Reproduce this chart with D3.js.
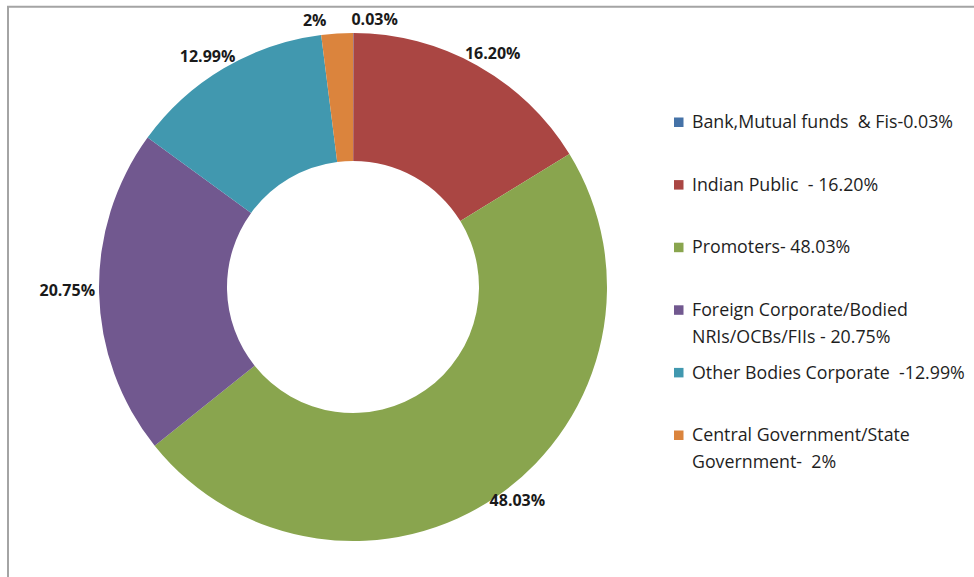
<!DOCTYPE html>
<html>
<head>
<meta charset="utf-8">
<script src="https://cdn.jsdelivr.net/npm/d3@7"></script>
<style>
  html, body { margin: 0; padding: 0; background: #fff; }
  svg { display: block; }
</style>
</head>
<body>
<div id="chart"></div>
<script>
// shareholding pattern (%)
const categories = ['Bank,Mutual funds & Fis', 'Indian Public', 'Promoters', 'Foreign Corporate/Bodied NRIs/OCBs/FIIs', 'Other Bodies Corporate', 'Central Government/State Government'];
const values = [0.03, 16.20, 48.03, 20.75, 12.99, 2];
const dataLabels = ['0.03%', '16.20%', '48.03%', '20.75%', '12.99%', '2%'];
const legendLines = [
  ['Bank,Mutual funds \u00a0& Fis-0.03%'],
  ['Indian Public \u00a0- 16.20%'],
  ['Promoters- 48.03%'],
  ['Foreign Corporate/Bodied', 'NRIs/OCBs/FIIs - 20.75%'],
  ['Other Bodies Corporate \u00a0-12.99%'],
  ['Central Government/State', 'Government- \u00a02%']
];
const colors = ['#4572A7', '#AA4643', '#89A54E', '#71588F', '#4198AF', '#DB843D'];

const W = 974, H = 577, cx = 353, cy = 287, R = 254, r0 = 126;
const svg = d3.select('#chart').append('svg').attr('width', W).attr('height', H);

// chart area frame (top and left edges visible)
svg.append('path').attr('d', `M8,${H} V6.8 H${W}`).attr('fill', 'none')
  .attr('stroke', '#a4a4a4').attr('stroke-width', 2);

const pie = d3.pie().sort(null).value(d => d)(values);
const arc = d3.arc().innerRadius(r0).outerRadius(R);
const g = svg.append('g').attr('transform', `translate(${cx},${cy})`);
g.selectAll('path.slice').data(pie).join('path').attr('class', 'slice')
  .attr('d', arc).attr('fill', (d, i) => colors[i]);

// data labels: box touching the outer edge at the slice mid-angle
const LFONT = 'Open Sans, Lato, sans-serif';
const measure = svg.append('text').attr('font-family', LFONT).attr('font-size', 16).attr('font-weight', 700);
const labels = pie.map((d, i) => {
  const a = (d.startAngle + d.endAngle) / 2;
  measure.text(dataLabels[i]);
  const w = measure.node().getComputedTextLength(), h = 13;
  const px = Math.sin(a) * (R + 4), py = -Math.cos(a) * (R + 4);
  return { i, text: dataLabels[i], w, x: px + Math.sin(a) * w / 2, y: py - Math.cos(a) * h / 2 - 3 };
});
measure.remove();
// push overlapping labels apart
for (let i = 0; i < labels.length; i++) {
  for (let j = i + 1; j < labels.length; j++) {
    const A = labels[i], B = labels[j];
    if (Math.abs(A.y - B.y) < 14 && Math.abs(A.x - B.x) < (A.w + B.w) / 2 + 4) {
      const [L, Rt] = A.x < B.x ? [A, B] : [B, A];
      const mid = (L.x + L.w / 2 + Rt.x - Rt.w / 2) / 2, gap = 12.5;
      L.x = mid - gap - L.w / 2;
      Rt.x = mid + gap + Rt.w / 2;
    }
  }
}
g.selectAll('text.dl').data(labels).join('text').attr('class', 'dl')
  .attr('x', d => d.x).attr('y', d => d.y).attr('dy', '0.35em')
  .attr('text-anchor', 'middle')
  .attr('font-family', LFONT).attr('font-size', 16).attr('font-weight', 700)
  .attr('fill', '#1a1a1a').text(d => d.text);

// legend
const ly = d3.scalePoint().domain(d3.range(categories.length)).range([122, 435]);
const leg = svg.append('g').selectAll('g').data(categories).join('g')
  .attr('transform', (d, i) => `translate(674,${ly(i)})`);
leg.append('rect').attr('x', 0).attr('y', -4.5).attr('width', 9.5).attr('height', 9.5)
  .attr('fill', (d, i) => colors[i]);
leg.append('text').attr('x', 18).attr('y', 0)
  .attr('font-family', LFONT).attr('font-size', 17.8).attr('fill', '#1e1e1e')
  .selectAll('tspan').data((d, i) => legendLines[i]).join('tspan')
  .attr('x', 18).attr('y', (t, k) => k * 27).attr('dy', '0.35em').text(t => t);
</script>
</body>
</html>
